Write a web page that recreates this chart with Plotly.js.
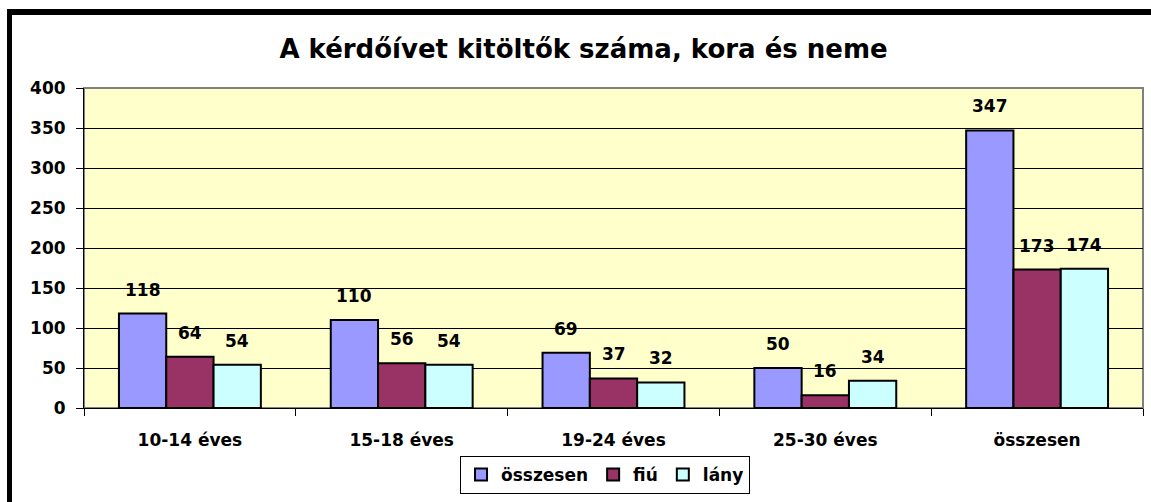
<!DOCTYPE html>
<html>
<head>
<meta charset="utf-8">
<script src="https://cdn.plot.ly/plotly-3.0.1.min.js"></script>
<style>
  html, body { margin: 0; padding: 0; background: #fff; overflow: hidden; }
  #chart { position: absolute; left: 0; top: 0; width: 1151px; height: 502px; }
  #frame { position: absolute; left: 7px; top: 9px; width: 3000px; height: 3000px;
           border-left: 5px solid #000; border-top: 6px solid #000; pointer-events: none; }
</style>
</head>
<body>
<div id="chart"></div>
<div id="frame"></div>
<script>
const categories = ["10-14 éves", "15-18 éves", "19-24 éves", "25-30 éves", "összesen"];
const seriesNames = ["összesen", "fiú", "lány"];
const osszesen = [118, 110, 69, 50, 347];
const fiu = [64, 56, 37, 16, 173];
const lany = [54, 54, 32, 34, 174];
const yTicks = [0, 50, 100, 150, 200, 250, 300, 350, 400];
const colors = ["#9999FF", "#993366", "#CCFFFF"];

const FONT = "'DejaVu Sans', 'Liberation Sans', Arial, sans-serif";
const bargap = 0.33;
const seriesValues = [osszesen, fiu, lany];

const traces = seriesValues.map((vals, i) => ({
  type: "bar",
  name: seriesNames[i],
  x: categories,
  y: vals,
  marker: { color: colors[i], line: { color: "#000", width: 2 } },
  hoverinfo: "skip"
}));

// data labels above bars, positioned via the category axis index and the group offset
const barW = (1 - bargap) / seriesValues.length;
const annotations = [];
seriesValues.forEach((vals, i) => {
  vals.forEach((v, c) => {
    annotations.push({
      xref: "x", yref: "y",
      x: c + (i - (seriesValues.length - 1) / 2) * barW,
      y: v,
      text: String(v),
      showarrow: false,
      yanchor: "middle",
      yshift: 24,
      font: { family: FONT, size: 17, color: "#000", weight: "bold" }
    });
  });
});

const layout = {
  width: 1151, height: 502,
  margin: { l: 84, r: 8, t: 88, b: 94, pad: 0 },
  paper_bgcolor: "#FFFFFF",
  plot_bgcolor: "#FFFFCC",
  barmode: "group",
  bargap: bargap,
  bargroupgap: 0,
  font: { family: FONT, color: "#000" },
  title: {
    text: "<b>A kérdőívet kitöltők száma, kora és neme</b>",
    font: { family: FONT, size: 26, color: "#000" },
    xref: "container", x: 0.507, xanchor: "center",
    yref: "container", y: 1 - 49 / 502, yanchor: "middle"
  },
  xaxis: {
    type: "category",
    showline: true, linecolor: "#000", linewidth: 1,
    ticks: "outside", tickson: "boundaries", ticklen: 7, tickcolor: "#000",
    tickfont: { family: FONT, size: 17, color: "#000", weight: "bold" },
    ticklabelstandoff: 17,
    showgrid: false, zeroline: false
  },
  yaxis: {
    range: [0, 400],
    tickvals: yTicks,
    ticktext: yTicks.map(String),
    showline: true, linecolor: "#000", linewidth: 1,
    ticks: "outside", ticklen: 7, tickcolor: "#000",
    tickfont: { family: FONT, size: 17, color: "#000", weight: "bold" },
    ticklabelstandoff: 7,
    showgrid: true, gridcolor: "#000", gridwidth: 1,
    zeroline: false, fixedrange: true
  },
  shapes: [{
    type: "rect", xref: "paper", yref: "paper", x0: 0, x1: 1, y0: 0, y1: 1,
    line: { color: "#808080", width: 2 }, fillcolor: "rgba(0,0,0,0)", layer: "below"
  }],
  legend: {
    orientation: "h",
    xref: "paper", yref: "paper",
    x: 0.492, xanchor: "center",
    y: -0.15, yanchor: "top",
    bgcolor: "#FFFFFF",
    bordercolor: "#000", borderwidth: 1,
    font: { family: FONT, size: 17, color: "#000", weight: "bold" },
    itemwidth: 30,
    traceorder: "normal"
  },
  annotations: annotations,
  showlegend: true
};

Plotly.newPlot("chart", traces, layout, { displayModeBar: false, staticPlot: true });
</script>
</body>
</html>
